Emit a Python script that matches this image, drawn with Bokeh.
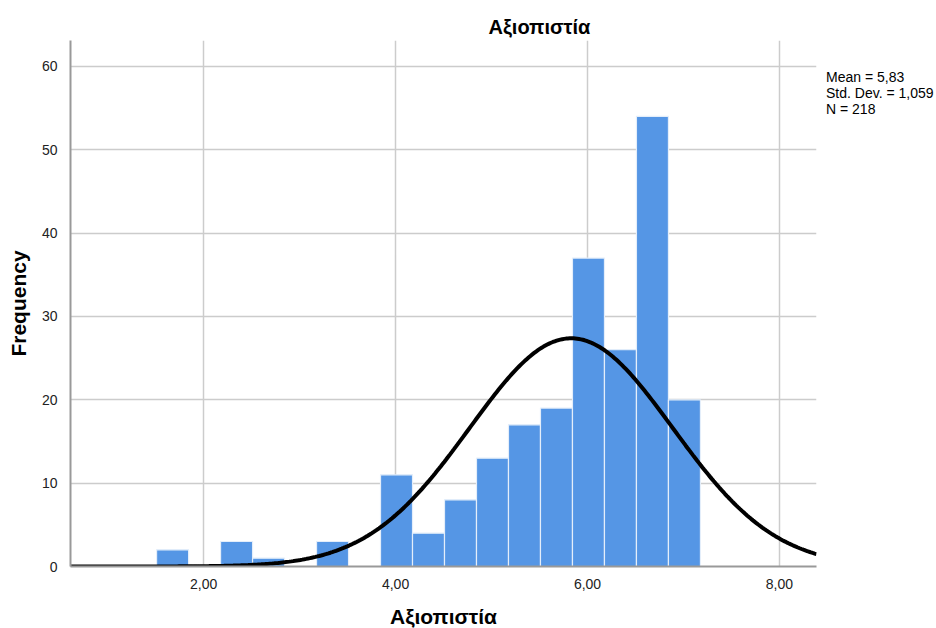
import numpy as np
from bokeh.plotting import figure
from bokeh.models import FixedTicker, ColumnDataSource, Legend, LegendItem
from bokeh.embed import file_html
from bokeh.resources import INLINE

# ---- data ----
bin_start = 1.51
bin_width = 1.0 / 3.0
counts = [2, 0, 3, 1, 0, 3, 0, 11, 4, 8, 13, 17, 19, 37, 26, 54, 20]
x_ticks = [2, 4, 6, 8]
x_tick_labels = ["2,00", "4,00", "6,00", "8,00"]
y_ticks = [0, 10, 20, 30, 40, 50, 60]
stat_mean = 5.83
stat_sd = 1.059
stat_n = 218
stats_lines = ["Mean = 5,83", "Std. Dev. = 1,059", "N = 218"]
title_text = "Αξιοπιστία"
x_label = "Αξιοπιστία"
y_label = "Frequency"

x_start, x_end = 0.613, 8.386
y_start, y_end = 0.0, 63.1

lefts = [bin_start + i * bin_width for i in range(len(counts))]
rights = [l + bin_width for l in lefts]
src = ColumnDataSource(dict(left=lefts, right=rights, top=counts, bottom=[0] * len(counts)))

# fitted normal curve scaled to counts
xs = np.linspace(x_start, x_end, 400)
ys = stat_n * bin_width / (stat_sd * np.sqrt(2 * np.pi)) * np.exp(-0.5 * ((xs - stat_mean) / stat_sd) ** 2)

p = figure(frame_width=746, frame_height=526, x_range=(x_start, x_end), y_range=(y_start, y_end),
           output_backend="svg", toolbar_location=None,
           min_border_left=70, min_border_right=120, min_border_top=40, min_border_bottom=62)
p.outline_line_color = None
p.background_fill_color = "white"
p.border_fill_color = "white"

p.quad(left="left", right="right", top="top", bottom="bottom", source=src,
       fill_color="#5596e5", line_color="#e4eefa", line_width=1.2)
p.line(xs, ys, line_color="black", line_width=4)

# axes
p.xaxis.ticker = FixedTicker(ticks=x_ticks)
p.xaxis.major_label_overrides = {t: l for t, l in zip(x_ticks, x_tick_labels)}
p.yaxis.ticker = FixedTicker(ticks=y_ticks)
for ax in (p.xaxis[0], p.yaxis[0]):
    ax.major_tick_line_color = None
    ax.minor_tick_line_color = None
    ax.axis_line_color = "#999999"
    ax.axis_line_width = 2
    ax.major_label_text_font = "Liberation Sans"
    ax.major_label_text_font_size = "14px"
    ax.major_label_text_color = "#222222"
    ax.axis_label_text_font = "Liberation Sans"
    ax.axis_label_text_font_style = "bold"
    ax.axis_label_text_font_size = "21px"
    ax.axis_label_text_color = "black"
p.xaxis.axis_label = x_label
p.yaxis.axis_label = y_label
p.xaxis.major_label_standoff = 6
p.yaxis.major_label_standoff = 7
p.xaxis.axis_label_standoff = 13
p.yaxis.axis_label_standoff = 9

p.xgrid.ticker = FixedTicker(ticks=x_ticks)
p.ygrid.ticker = FixedTicker(ticks=y_ticks)
for g in (p.xgrid[0], p.ygrid[0]):
    g.grid_line_color = "#cccccc"
    g.grid_line_width = 1.5

# title
p.title.text = title_text
p.title.align = "left"
p.title.offset = 418
p.title.text_font = "Liberation Sans"
p.title.text_font_style = "bold"
p.title.text_font_size = "20px"
p.title.text_color = "black"
p.title.standoff = 6

# stats box as an icon-less legend in the right panel
dummy = p.line([], [], line_alpha=0)
items = [LegendItem(label=t, renderers=[dummy]) for t in stats_lines]
leg = Legend(items=items, location="top_left", margin=0, padding=0, spacing=-4,
             glyph_width=10, glyph_height=10, label_height=10, label_standoff=0,
             label_text_font="Liberation Sans", label_text_font_size="14px",
             label_text_color="black", label_text_line_height=0.75,
             title=" ", title_text_font_size="14px", title_standoff=13,
             background_fill_alpha=0, border_line_alpha=0)
p.add_layout(leg, "right")

open("out.html", "w").write(file_html(p, INLINE))
